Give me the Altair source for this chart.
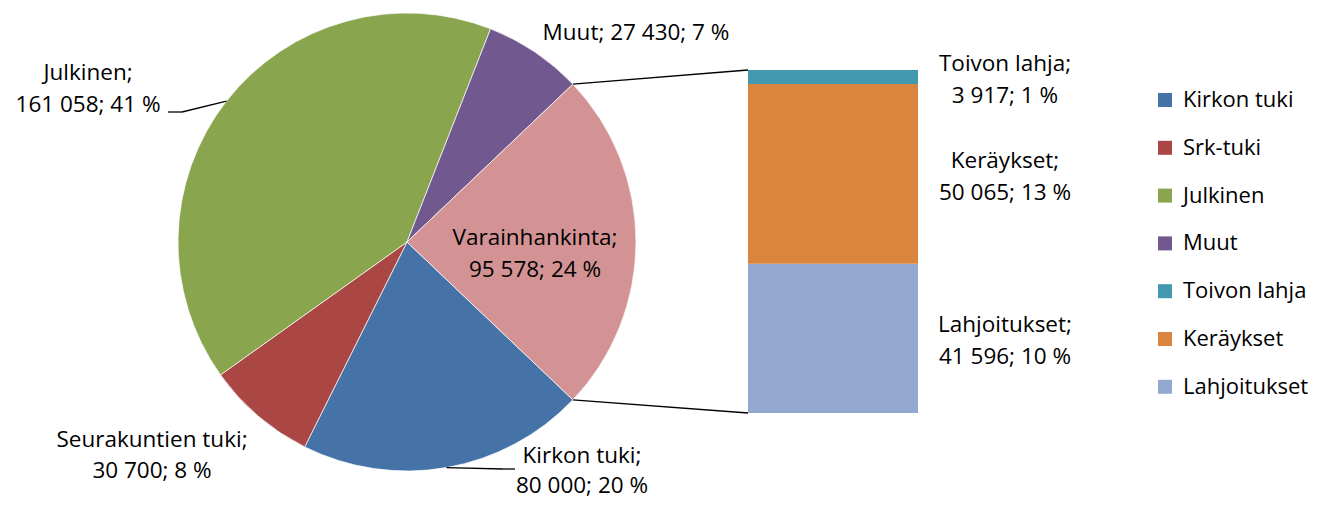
import math
import altair as alt
import pandas as pd

# ---------------- data ----------------
pie_cats = ["Kirkon tuki", "Srk-tuki", "Julkinen", "Muut", "Varainhankinta"]
pie_names = ["Kirkon tuki", "Seurakuntien tuki", "Julkinen", "Muut", "Varainhankinta"]
pie_values = [80000, 30700, 161058, 27430, 95578]
pie_pct = [20, 8, 41, 7, 24]

bar_cats = ["Lahjoitukset", "Keräykset", "Toivon lahja"]
bar_values = [41596, 50065, 3917]
bar_pct = [10, 13, 1]

legend_cats = ["Kirkon tuki", "Srk-tuki", "Julkinen", "Muut",
               "Toivon lahja", "Keräykset", "Lahjoitukset"]

# ---------------- styles / layout ----------------
color_domain = legend_cats + ["Varainhankinta"]
color_range = ["#4572A7", "#AA4643", "#89A54E", "#71588F",
               "#4198AF", "#DB843D", "#93A9CF", "#D39394"]
FONT = "Open Sans"
FS = 22.5
LEG_FS = 22
LH = 32

W, H = 1304, 491
CX, CY, R = 399, 234, 229          # pie centre / radius (px)
BX0, BX1 = 740, 910                 # bar x extent (px)
BYB, BYT = 405, 62                  # bar bottom / top (px)
BAR_LABEL_X = 997

# label centres and line heights for pie labels (px)
pie_label_pos = {
    "Kirkon tuki": (574, 463, 30),
    "Srk-tuki": (144, 447, 31),
    "Julkinen": (80, 81, 32),
    "Muut": (628, 25, 32),
    "Varainhankinta": (527, 246, 32),
}
# leader line elbows / ends (px)
leaders = {
    "Julkinen": [(174, 104), (160, 104)],
    "Kirkon tuki": [(495, 461), (507, 461)],
}


def fmt(v):
    return f"{v:,}".replace(",", " ")


total = sum(pie_values)
v_frac = pie_values[pie_cats.index("Varainhankinta")] / total
a0 = math.pi / 2 + v_frac * math.pi      # first slice starts where the "other" slice ends

pie_df = pd.DataFrame({
    "cat": pie_cats,
    "value": pie_values,
    "idx": list(range(len(pie_cats))),
})

# pie labels: one row per text line
lab_rows = []
for c, n, v, p in zip(pie_cats, pie_names, pie_values, pie_pct):
    if c == "Muut":
        lines = [f"{n}; {fmt(v)}; {p} %"]
    else:
        lines = [f"{n};", f"{fmt(v)}; {p} %"]
    x, y, lh = pie_label_pos[c]
    k = len(lines)
    for i, t in enumerate(lines):
        lab_rows.append({"x": x, "y": y + (i - (k - 1) / 2) * lh, "t": t})
pie_lab_df = pd.DataFrame(lab_rows)

# geometry from data angles
cum = 0
mid_angle = {}
edges = {}
for c, v in zip(pie_cats, pie_values):
    s = a0 + cum / total * 2 * math.pi
    e = a0 + (cum + v) / total * 2 * math.pi
    mid_angle[c] = (s + e) / 2
    edges[c] = (s, e)
    cum += v


def pt(a, r=R):
    return (CX + r * math.sin(a), CY - r * math.cos(a))


seg_rows = []
for c, pts in leaders.items():
    p = [pt(mid_angle[c])] + pts
    for (x1, y1), (x2, y2) in zip(p[:-1], p[1:]):
        seg_rows.append({"x": x1, "y": y1, "x2": x2, "y2": y2})
vs, ve = edges["Varainhankinta"]
ex1, ey1 = pt(vs)
ex2, ey2 = pt(ve)
seg_rows.append({"x": ex1, "y": ey1, "x2": BX0, "y2": BYT})
seg_rows.append({"x": ex2, "y": ey2, "x2": BX0, "y2": BYB})
seg_df = pd.DataFrame(seg_rows)

bar_df = pd.DataFrame({
    "cat": bar_cats,
    "value": bar_values,
    "idx": list(range(len(bar_cats))),
})
bar_total = sum(bar_values)

# bar label lines
bl_rows = []
for i, (c, v, p) in enumerate(zip(bar_cats, bar_values, bar_pct)):
    bl_rows.append({"idx": i, "value": v, "line": 0, "t": f"{c};"})
    bl_rows.append({"idx": i, "value": v, "line": 1, "t": f"{fmt(v)}; {p} %"})
bl_df = pd.DataFrame(bl_rows)

color_scale = alt.Scale(domain=color_domain, range=color_range)
ybar_scale = alt.Scale(domain=[0, bar_total], range=[BYB, BYT], nice=False, zero=True)

pie = alt.Chart(pie_df).mark_arc(outerRadius=R, stroke="white", strokeWidth=0.7).encode(
    x=alt.value(CX),
    y=alt.value(CY),
    theta=alt.Theta("value:Q", stack=True,
                    scale=alt.Scale(range=[a0, a0 + 2 * math.pi])),
    order=alt.Order("idx:Q"),
    color=alt.Color("cat:N", scale=color_scale,
                    legend=alt.Legend(
                        orient="none", legendX=1146, legendY=81, title=None,
                        values=legend_cats, symbolType="square", symbolSize=196,
                        symbolStrokeWidth=0, labelFontSize=LEG_FS, labelFont=FONT,
                        labelColor="black", rowPadding=25.8, labelOffset=7,
                        labelLimit=300, padding=0)),
)

pie_text = alt.Chart(pie_lab_df).mark_text(
    font=FONT, fontSize=FS, color="black",
    align="center", baseline="middle").encode(
    x=alt.X("x:Q", scale=None),
    y=alt.Y("y:Q", scale=None),
    text="t:N",
)

segs = alt.Chart(seg_df).mark_rule(color="black", strokeWidth=1.3).encode(
    x=alt.X("x:Q", scale=None),
    y=alt.Y("y:Q", scale=None),
    x2="x2:Q",
    y2="y2:Q",
)

bar = alt.Chart(bar_df).transform_stack(
    stack="value", groupby=[], as_=["y0", "y1"],
    sort=[alt.SortField("idx", order="ascending")]
).mark_rect().encode(
    x=alt.value(BX0),
    x2=alt.value(BX1),
    y=alt.Y("y0:Q", scale=ybar_scale, axis=None),
    y2="y1:Q",
    color=alt.Color("cat:N", scale=color_scale, legend=None),
)


def bar_text_layer(line, dy):
    return alt.Chart(bl_df).transform_window(
        cum="sum(value)", sort=[alt.SortField("idx")], groupby=["line"]
    ).transform_calculate(
        mid="datum.cum - datum.value / 2",
    ).transform_filter(
        alt.datum.line == line
    ).mark_text(
        font=FONT, fontSize=FS, color="black",
        align="center", baseline="middle", dy=dy).encode(
        x=alt.value(BAR_LABEL_X),
        y=alt.Y("mid:Q", scale=ybar_scale, axis=None),
        text="t:N",
    )


bar_text0 = bar_text_layer(0, -LH / 2 + 3)
bar_text1 = bar_text_layer(1, LH / 2 + 3)

chart = alt.layer(pie, segs, bar, pie_text, bar_text0, bar_text1).resolve_scale(
    x="independent", y="independent"
).properties(
    width=W, height=H, padding=0,
    autosize=alt.AutoSizeParams(type="none"),
).configure_view(stroke=None)

chart.save("out.html", embed_options={"renderer": "svg", "actions": False})
